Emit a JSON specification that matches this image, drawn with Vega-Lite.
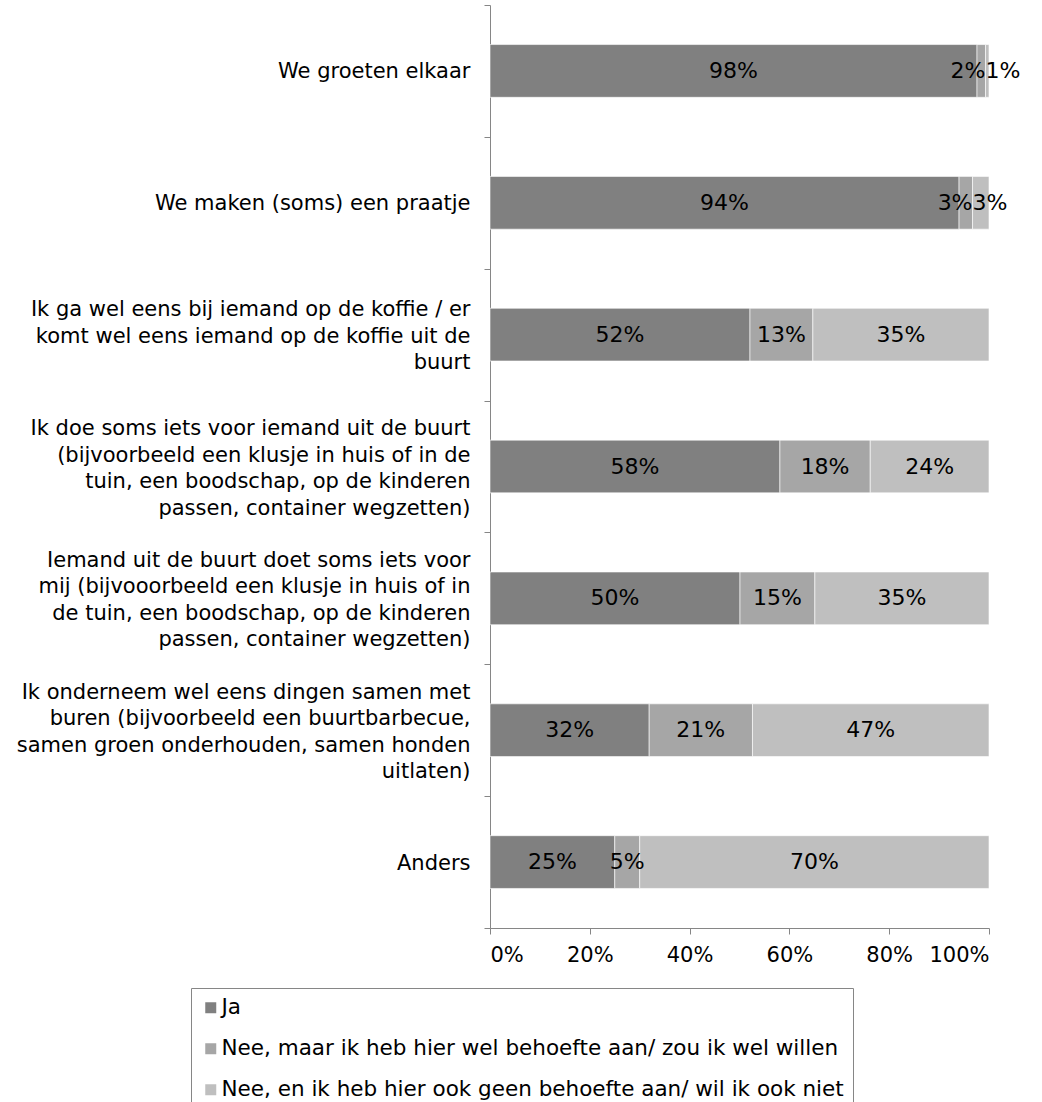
{
  "$schema": "https://vega.github.io/schema/vega-lite/v6.json",
  "autosize": {"type": "none"},
  "width": 499,
  "height": 923,
  "padding": {"left": 490, "top": 5, "right": 53, "bottom": 174},
  "config": {
    "font": "DejaVu Sans",
    "view": {"stroke": null},
    "background": "#ffffff"
  },
  "data": {
    "values": [
      {"q": "We groeten elkaar", "k": 1, "s": "Ja", "v": 97.6},
      {"q": "We groeten elkaar", "k": 2, "s": "Nee, maar ik heb hier wel behoefte aan/ zou ik wel willen", "v": 1.7},
      {"q": "We groeten elkaar", "k": 3, "s": "Nee, en ik heb hier ook geen behoefte aan/ wil ik ook niet", "v": 0.7},
      {"q": "We maken (soms) een praatje", "k": 1, "s": "Ja", "v": 94.0},
      {"q": "We maken (soms) een praatje", "k": 2, "s": "Nee, maar ik heb hier wel behoefte aan/ zou ik wel willen", "v": 2.7},
      {"q": "We maken (soms) een praatje", "k": 3, "s": "Nee, en ik heb hier ook geen behoefte aan/ wil ik ook niet", "v": 3.3},
      {"q": "Ik ga wel eens bij iemand op de koffie / er|komt wel eens iemand op de koffie uit de|buurt", "k": 1, "s": "Ja", "v": 52.1},
      {"q": "Ik ga wel eens bij iemand op de koffie / er|komt wel eens iemand op de koffie uit de|buurt", "k": 2, "s": "Nee, maar ik heb hier wel behoefte aan/ zou ik wel willen", "v": 12.6},
      {"q": "Ik ga wel eens bij iemand op de koffie / er|komt wel eens iemand op de koffie uit de|buurt", "k": 3, "s": "Nee, en ik heb hier ook geen behoefte aan/ wil ik ook niet", "v": 35.3},
      {"q": "Ik doe soms iets voor iemand uit de buurt|(bijvoorbeeld een klusje in huis of in de|tuin, een boodschap, op de kinderen|passen, container wegzetten)", "k": 1, "s": "Ja", "v": 58.1},
      {"q": "Ik doe soms iets voor iemand uit de buurt|(bijvoorbeeld een klusje in huis of in de|tuin, een boodschap, op de kinderen|passen, container wegzetten)", "k": 2, "s": "Nee, maar ik heb hier wel behoefte aan/ zou ik wel willen", "v": 18.1},
      {"q": "Ik doe soms iets voor iemand uit de buurt|(bijvoorbeeld een klusje in huis of in de|tuin, een boodschap, op de kinderen|passen, container wegzetten)", "k": 3, "s": "Nee, en ik heb hier ook geen behoefte aan/ wil ik ook niet", "v": 23.8},
      {"q": "Iemand uit de buurt doet soms iets voor|mij (bijvooorbeeld een klusje in huis of in|de tuin, een boodschap, op de kinderen|passen, container wegzetten)", "k": 1, "s": "Ja", "v": 50.1},
      {"q": "Iemand uit de buurt doet soms iets voor|mij (bijvooorbeeld een klusje in huis of in|de tuin, een boodschap, op de kinderen|passen, container wegzetten)", "k": 2, "s": "Nee, maar ik heb hier wel behoefte aan/ zou ik wel willen", "v": 15.0},
      {"q": "Iemand uit de buurt doet soms iets voor|mij (bijvooorbeeld een klusje in huis of in|de tuin, een boodschap, op de kinderen|passen, container wegzetten)", "k": 3, "s": "Nee, en ik heb hier ook geen behoefte aan/ wil ik ook niet", "v": 34.9},
      {"q": "Ik onderneem wel eens dingen samen met|buren (bijvoorbeeld een buurtbarbecue,|samen groen onderhouden, samen honden|uitlaten)", "k": 1, "s": "Ja", "v": 31.9},
      {"q": "Ik onderneem wel eens dingen samen met|buren (bijvoorbeeld een buurtbarbecue,|samen groen onderhouden, samen honden|uitlaten)", "k": 2, "s": "Nee, maar ik heb hier wel behoefte aan/ zou ik wel willen", "v": 20.7},
      {"q": "Ik onderneem wel eens dingen samen met|buren (bijvoorbeeld een buurtbarbecue,|samen groen onderhouden, samen honden|uitlaten)", "k": 3, "s": "Nee, en ik heb hier ook geen behoefte aan/ wil ik ook niet", "v": 47.4},
      {"q": "Anders", "k": 1, "s": "Ja", "v": 25.0},
      {"q": "Anders", "k": 2, "s": "Nee, maar ik heb hier wel behoefte aan/ zou ik wel willen", "v": 5.0},
      {"q": "Anders", "k": 3, "s": "Nee, en ik heb hier ook geen behoefte aan/ wil ik ook niet", "v": 70.0}
    ]
  },
  "transform": [
    {"stack": "v", "groupby": ["q"], "sort": [{"field": "k", "order": "ascending"}], "as": ["x0", "x1"]},
    {"calculate": "(datum.x0 + datum.x1) / 2", "as": "xm"},
    {"calculate": "format(datum.v, '.0f') + '%'", "as": "lab"}
  ],
  "encoding": {
    "y": {
      "field": "q",
      "type": "nominal",
      "sort": null,
      "scale": {"paddingInner": 0, "paddingOuter": 0},
      "axis": {
        "title": null,
        "labelExpr": "split(datum.label, '|')",
        "labelFontSize": 21,
        "labelLineHeight": 26.5,
        "labelColor": "#000000",
        "labelLimit": 0,
        "labelPadding": 14,
        "labelAlign": "right",
        "labelOffset": {
          "condition": [
            {"test": "length(split(datum.value, '|')) == 4", "value": -38},
            {"test": "length(split(datum.value, '|')) == 3", "value": -25}
          ],
          "value": 1
        },
        "tickBand": "extent",
        "tickSize": 6,
        "tickColor": "#868686",
        "domainColor": "#868686",
        "domainWidth": 1,
        "grid": false
      }
    }
  },
  "layer": [
    {
      "mark": {"type": "bar", "height": {"band": 0.4}, "stroke": "#ffffff", "strokeWidth": 0.6},
      "encoding": {
        "x": {
          "field": "x0",
          "type": "quantitative",
          "scale": {"domain": [0, 100], "nice": false},
          "axis": {
            "title": null,
            "values": [0, 20, 40, 60, 80, 100],
            "labelExpr": "datum.value + '%'",
            "labelFontSize": 21,
            "labelColor": "#000000",
            "labelPadding": 10,
            "tickSize": 6,
            "tickColor": "#868686",
            "domainColor": "#868686",
            "grid": false
          }
        },
        "x2": {"field": "x1"},
        "color": {
          "field": "s",
          "type": "nominal",
          "scale": {
            "domain": ["Ja", "Nee, maar ik heb hier wel behoefte aan/ zou ik wel willen", "Nee, en ik heb hier ook geen behoefte aan/ wil ik ook niet"],
            "range": ["#808080", "#a6a6a6", "#bfbfbf"]
          },
          "legend": {
            "title": null,
            "orient": "none",
            "legendX": -299,
            "legendY": 983,
            "direction": "vertical",
            "strokeColor": "#868686",
            "padding": 9,
            "rowPadding": 18,
            "labelFontSize": 21.5,
            "labelColor": "#000000",
            "labelLimit": 0,
            "labelOffset": 0,
            "symbolType": "square",
            "symbolSize": 121,
            "symbolStrokeWidth": 0
          }
        }
      }
    },
    {
      "transform": [{"filter": "datum.k == 1 || datum.v >= 5"}],
      "mark": {"type": "text", "fontSize": 22, "color": "#000000", "align": "center", "baseline": "middle"},
      "encoding": {
        "x": {"field": "xm", "type": "quantitative"},
        "text": {"field": "lab"}
      }
    },
    {
      "transform": [{"filter": "datum.k == 2 && datum.v < 5"}],
      "mark": {"type": "text", "fontSize": 22, "color": "#000000", "align": "right", "baseline": "middle"},
      "encoding": {
        "x": {"field": "x1", "type": "quantitative"},
        "text": {"field": "lab"}
      }
    },
    {
      "transform": [{"filter": "datum.k == 3 && datum.v < 5"}],
      "mark": {"type": "text", "fontSize": 22, "color": "#000000", "align": "left", "baseline": "middle"},
      "encoding": {
        "x": {"field": "x0", "type": "quantitative"},
        "text": {"field": "lab"}
      }
    }
  ]
}
